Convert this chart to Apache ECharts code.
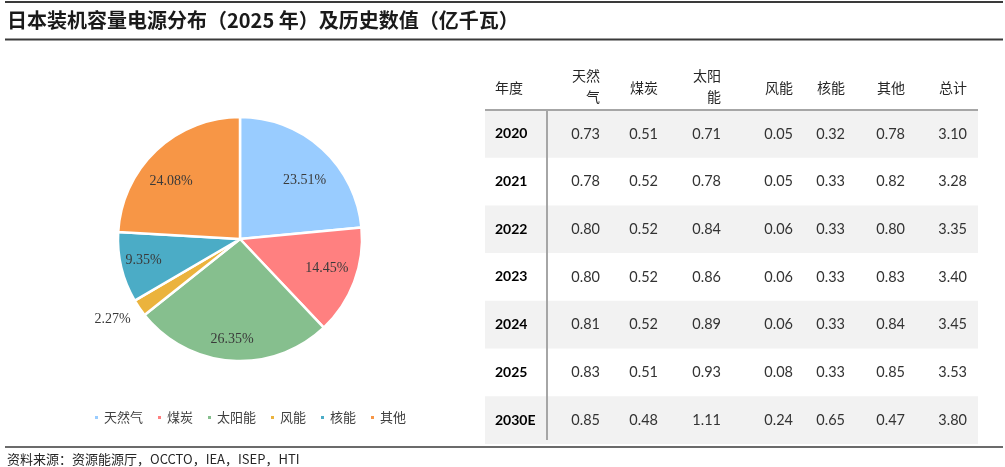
<!DOCTYPE html>
<html>
<head>
<meta charset="utf-8">
<script src="https://cdn.jsdelivr.net/npm/echarts@6/dist/echarts.min.js"></script>
<style>html,body{margin:0;padding:0;background:#fff;}#c{width:1005px;height:467px;}</style>
</head>
<body>
<div id="c"></div>
<script>
// ---- data ----
const categories = ['天然气', '煤炭', '太阳能', '风能', '核能', '其他'];
const pieShares = [23.51, 14.45, 26.35, 2.27, 9.35, 24.08];
const years = ['2020', '2021', '2022', '2023', '2024', '2025', '2030E'];
const headers = ['年度', '天然\n气', '煤炭', '太阳\n能', '风能', '核能', '其他', '总计'];
const gas = [0.73, 0.78, 0.80, 0.80, 0.81, 0.83, 0.85];
const coal = [0.51, 0.52, 0.52, 0.52, 0.52, 0.51, 0.48];
const solar = [0.71, 0.78, 0.84, 0.86, 0.89, 0.93, 1.11];
const wind = [0.05, 0.05, 0.06, 0.06, 0.06, 0.08, 0.24];
const nuclear = [0.32, 0.33, 0.33, 0.33, 0.33, 0.33, 0.65];
const other = [0.78, 0.82, 0.80, 0.83, 0.84, 0.85, 0.47];
const total = [3.10, 3.28, 3.35, 3.40, 3.45, 3.53, 3.80];

// ---- layout / style ----
const colors = ['#99CCFF', '#FF8080', '#86BF8E', '#EBB33D', '#4BACC6', '#F79646'];
const labelNudge = [[0, 12], [-3, -5], [-1, 5], [5, 7], [-3, -1], [-3, 12]];
const columns = [gas, coal, solar, wind, nuclear, other, total];
const colRight = [600, 658, 721, 793, 845, 905, 967];
const yearX = 495;
const tableLeft = 485, tableRight = 978;
const headerBottom = 110;
const rowH = 47.7;
const cjk = '"Noto Sans CJK SC", sans-serif';
const num = 'Lato, "Open Sans", sans-serif';

const graphics = [];
// frame lines
graphics.push({ type: 'line', shape: { x1: 5, y1: 2, x2: 1003, y2: 2 }, style: { stroke: '#3a3a3a', lineWidth: 2 } });
graphics.push({ type: 'line', shape: { x1: 5, y1: 39.5, x2: 1003, y2: 39.5 }, style: { stroke: '#3a3a3a', lineWidth: 2 } });
graphics.push({ type: 'line', shape: { x1: 5, y1: 447, x2: 1003, y2: 447 }, style: { stroke: '#3a3a3a', lineWidth: 1.5 } });

// row bands
years.forEach(function (y, i) {
  if (i % 2 === 0) {
    graphics.push({ type: 'rect', z: 0, shape: { x: tableLeft, y: headerBottom + i * rowH, width: tableRight - tableLeft, height: rowH }, style: { fill: '#F2F2F2' } });
  }
});
// header line & vertical separator
graphics.push({ type: 'line', z: 2, shape: { x1: tableLeft, y1: headerBottom, x2: tableRight, y2: headerBottom }, style: { stroke: '#A6A6A6', lineWidth: 2 } });
graphics.push({ type: 'line', z: 2, shape: { x1: 547, y1: headerBottom, x2: 547, y2: headerBottom + years.length * rowH - 4 }, style: { stroke: '#A6A6A6', lineWidth: 2 } });

// header texts
headers.forEach(function (h, j) {
  const multi = h.indexOf('\n') >= 0;
  graphics.push({
    type: 'text', z: 3,
    x: j === 0 ? yearX : colRight[j - 1],
    y: multi ? 86 : 88,
    style: {
      text: h, fill: '#262626', font: '14px ' + cjk, lineHeight: 21,
      align: j === 0 ? 'left' : 'right', verticalAlign: 'middle',
      textAlign: j === 0 ? 'left' : 'right', textVerticalAlign: 'middle'
    }
  });
});

// body texts
years.forEach(function (yr, i) {
  const cy = headerBottom + i * rowH + rowH / 2;
  graphics.push({
    type: 'text', z: 3, x: yearX, y: cy,
    style: { text: yr, fill: '#000', font: 'bold 14px ' + num, align: 'left', verticalAlign: 'middle', textAlign: 'left', textVerticalAlign: 'middle' }
  });
  columns.forEach(function (col, j) {
    graphics.push({
      type: 'text', z: 3, x: colRight[j], y: cy,
      style: { text: col[i].toFixed(2), fill: '#333', font: '14.5px ' + num, align: 'right', verticalAlign: 'middle', textAlign: 'right', textVerticalAlign: 'middle' }
    });
  });
});

// source
graphics.push({
  type: 'text', x: 7, y: 459,
  style: { text: '资料来源：资源能源厅，OCCTO，IEA，ISEP，HTI', fill: '#262626', font: '13px ' + cjk, align: 'left', verticalAlign: 'middle', textAlign: 'left', textVerticalAlign: 'middle' }
});

const pieData = categories.map(function (c, i) {
  return { name: c, value: pieShares[i], itemStyle: { color: colors[i] } };
});
const labelData = categories.map(function (c, i) {
  const item = { name: c, value: pieShares[i] };
  if (c === '风能') {
    item.label = { position: 'outside' };
    item.labelLine = { show: false, length: 8, length2: 2 };
  }
  return item;
});

const chart = echarts.init(document.getElementById('c'), null, { renderer: 'canvas' });
chart.setOption({
  animation: false,
  title: {
    text: '日本装机容量电源分布（2025 年）及历史数值（亿千瓦）',
    left: 7, top: 10, padding: 0,
    textStyle: { fontFamily: cjk, fontSize: 20, fontWeight: 'bold', color: '#1a1a1a' }
  },
  legend: {
    data: categories,
    left: 93, top: 411, padding: 0,
    icon: 'rect', itemWidth: 5, itemHeight: 5, itemGap: 13,
    textStyle: { fontFamily: cjk, fontSize: 13, color: '#404040' }
  },
  graphic: graphics,
  series: [
    {
      type: 'pie', name: 'main',
      center: [240, 239], radius: [0, 122],
      startAngle: 90, clockwise: true,
      avoidLabelOverlap: false,
      label: { show: false }, labelLine: { show: false },
      itemStyle: { borderColor: '#fff', borderWidth: 2.5 },
      emphasis: { disabled: true },
      data: pieData
    },
    {
      type: 'pie', name: 'labels',
      center: [240, 239], radius: [64, 122],
      startAngle: 90, clockwise: true,
      avoidLabelOverlap: false, silent: true,
      itemStyle: { color: 'rgba(0,0,0,0)', borderWidth: 0 },
      label: {
        show: true, position: 'inside',
        formatter: function (p) { return p.value.toFixed(2) + '%'; },
        fontFamily: '"Liberation Serif", serif', fontSize: 14, color: '#3a3a3a'
      },
      labelLayout: function (p) {
        const n = labelNudge[p.dataIndex];
        return { dx: n[0], dy: n[1] };
      },
      labelLine: { show: false },
      emphasis: { disabled: true },
      data: labelData
    }
  ]
});
</script>
</body>
</html>
